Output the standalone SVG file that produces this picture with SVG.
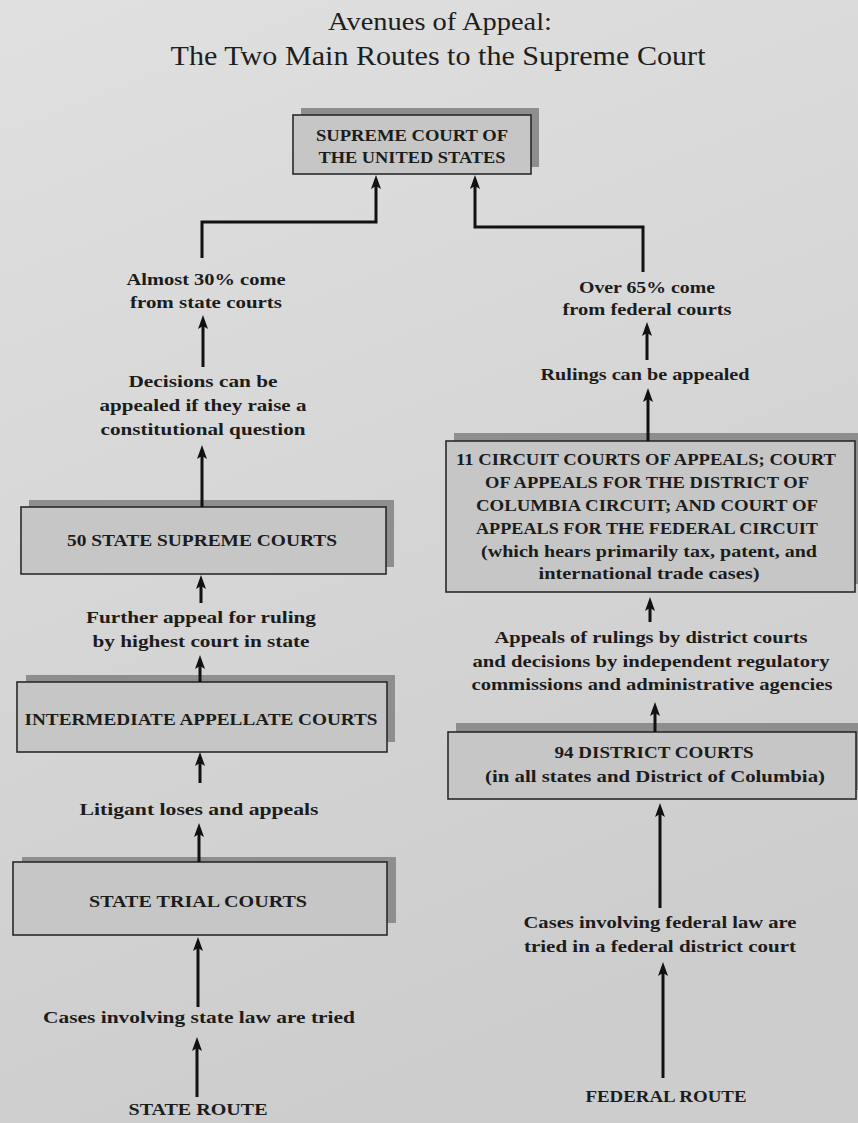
<svg xmlns="http://www.w3.org/2000/svg" width="858" height="1123" viewBox="0 0 858 1123">
<style>
.t{font-family:"Liberation Serif","Times New Roman",serif;font-weight:bold;font-size:17px;fill:#1c1c1c;text-anchor:middle}
.cap{font-size:16.5px}
.title{font-family:"Liberation Serif","Times New Roman",serif;font-weight:normal;fill:#1e1e1e;text-anchor:middle}
.box{fill:#c6c6c6;stroke:#2a2a2a;stroke-width:1.6}
.shadow{fill:#8e8e8e}
.conn{fill:none;stroke:#111;stroke-width:3;marker-end:url(#ah)}
</style>
<defs>
<linearGradient id="bg" x1="0" y1="0" x2="0.3" y2="1">
<stop offset="0" stop-color="#e0e0e0"/>
<stop offset="1" stop-color="#cdcdcd"/>
</linearGradient>
<marker id="ah" viewBox="0 0 14 10" refX="9" refY="5" markerWidth="14" markerHeight="10" markerUnits="userSpaceOnUse" orient="auto">
<path d="M0,0 L14,5 L0,10 L3,5 z" fill="#111"/>
</marker>
</defs>
<rect width="858" height="1123" fill="url(#bg)"/>

<g id="title">
<text class="title" x="440" y="30" font-size="26" textLength="224" lengthAdjust="spacingAndGlyphs">Avenues of Appeal:</text>
<text class="title" x="438" y="65" font-size="27" textLength="535" lengthAdjust="spacingAndGlyphs">The Two Main Routes to the Supreme Court</text>
</g>

<g id="supreme-court">
<rect class="shadow" x="301" y="108" width="238" height="59"/>
<rect class="box" x="293" y="115" width="238" height="59"/>
<text class="t cap" x="412" y="141" textLength="192" lengthAdjust="spacingAndGlyphs">SUPREME COURT OF</text>
<text class="t cap" x="412" y="163" textLength="187" lengthAdjust="spacingAndGlyphs">THE UNITED STATES</text>
</g>

<g id="label-30pct">
<text class="t" x="206" y="285" textLength="159" lengthAdjust="spacingAndGlyphs">Almost 30% come</text>
<text class="t" x="206" y="308" textLength="152" lengthAdjust="spacingAndGlyphs">from state courts</text>
</g>

<g id="label-constitutional">
<text class="t" x="203" y="387" textLength="149" lengthAdjust="spacingAndGlyphs">Decisions can be</text>
<text class="t" x="203" y="411" textLength="207" lengthAdjust="spacingAndGlyphs">appealed if they raise a</text>
<text class="t" x="203" y="435" textLength="205" lengthAdjust="spacingAndGlyphs">constitutional question</text>
</g>

<g id="state-supreme-courts">
<rect class="shadow" x="29" y="500" width="365" height="67"/>
<rect class="box" x="21" y="507" width="365" height="67"/>
<text class="t cap" x="202" y="546" textLength="270" lengthAdjust="spacingAndGlyphs">50 STATE SUPREME COURTS</text>
</g>

<g id="label-further-appeal">
<text class="t" x="201" y="623" textLength="230" lengthAdjust="spacingAndGlyphs">Further appeal for ruling</text>
<text class="t" x="201" y="647" textLength="217" lengthAdjust="spacingAndGlyphs">by highest court in state</text>
</g>

<g id="intermediate-appellate-courts">
<rect class="shadow" x="26" y="675" width="369" height="67"/>
<rect class="box" x="17" y="682" width="370" height="70"/>
<text class="t cap" x="201" y="725" textLength="353" lengthAdjust="spacingAndGlyphs">INTERMEDIATE APPELLATE COURTS</text>
</g>

<g id="label-litigant">
<text class="t" x="199" y="815" textLength="239" lengthAdjust="spacingAndGlyphs">Litigant loses and appeals</text>
</g>

<g id="state-trial-courts">
<rect class="shadow" x="22" y="857" width="374" height="66"/>
<rect class="box" x="13" y="862" width="374" height="73"/>
<text class="t cap" x="198" y="907" textLength="218" lengthAdjust="spacingAndGlyphs">STATE TRIAL COURTS</text>
</g>

<g id="label-state-law">
<text class="t" x="199" y="1023" textLength="312" lengthAdjust="spacingAndGlyphs">Cases involving state law are tried</text>
</g>

<g id="state-route">
<text class="t cap" x="198" y="1115" textLength="139" lengthAdjust="spacingAndGlyphs">STATE ROUTE</text>
</g>

<g id="label-65pct">
<text class="t" x="647" y="293" textLength="136" lengthAdjust="spacingAndGlyphs">Over 65% come</text>
<text class="t" x="647" y="315" textLength="169" lengthAdjust="spacingAndGlyphs">from federal courts</text>
</g>

<g id="label-rulings">
<text class="t" x="645" y="380" textLength="209" lengthAdjust="spacingAndGlyphs">Rulings can be appealed</text>
</g>

<g id="circuit-courts">
<rect class="shadow" x="454" y="433" width="410" height="151"/>
<rect class="box" x="446" y="441" width="409" height="151"/>
<text class="t cap" x="646" y="465" textLength="380" lengthAdjust="spacingAndGlyphs">11 CIRCUIT COURTS OF APPEALS; COURT</text>
<text class="t cap" x="647" y="488" textLength="324" lengthAdjust="spacingAndGlyphs">OF APPEALS FOR THE DISTRICT OF</text>
<text class="t cap" x="647" y="511" textLength="342" lengthAdjust="spacingAndGlyphs">COLUMBIA CIRCUIT; AND COURT OF</text>
<text class="t cap" x="647" y="534" textLength="342" lengthAdjust="spacingAndGlyphs">APPEALS FOR THE FEDERAL CIRCUIT</text>
<text class="t" x="649" y="557" textLength="336" lengthAdjust="spacingAndGlyphs">(which hears primarily tax, patent, and</text>
<text class="t" x="649" y="579" textLength="221" lengthAdjust="spacingAndGlyphs">international trade cases)</text>
</g>

<g id="label-district-appeals">
<text class="t" x="651" y="643" textLength="313" lengthAdjust="spacingAndGlyphs">Appeals of rulings by district courts</text>
<text class="t" x="651" y="667" textLength="357" lengthAdjust="spacingAndGlyphs">and decisions by independent regulatory</text>
<text class="t" x="652" y="690" textLength="361" lengthAdjust="spacingAndGlyphs">commissions and administrative agencies</text>
</g>

<g id="district-courts">
<rect class="shadow" x="456" y="723" width="408" height="67"/>
<rect class="box" x="448" y="732" width="408" height="67"/>
<text class="t cap" x="654" y="758" textLength="199" lengthAdjust="spacingAndGlyphs">94 DISTRICT COURTS</text>
<text class="t" x="655" y="782" textLength="340" lengthAdjust="spacingAndGlyphs">(in all states and District of Columbia)</text>
</g>

<g id="label-federal-law">
<text class="t" x="660" y="928" textLength="273" lengthAdjust="spacingAndGlyphs">Cases involving federal law are</text>
<text class="t" x="660" y="952" textLength="272" lengthAdjust="spacingAndGlyphs">tried in a federal district court</text>
</g>

<g id="federal-route">
<text class="t cap" x="666" y="1102" textLength="161" lengthAdjust="spacingAndGlyphs">FEDERAL ROUTE</text>
</g>

<g id="connectors">
<path class="conn" d="M202,258 L202,222 L376,222 L376,180"/>
<path class="conn" d="M643,272 L643,227 L475,227 L475,180"/>
<path class="conn" d="M203,367 L203,320"/>
<path class="conn" d="M202,507 L202,450"/>
<path class="conn" d="M201,603 L201,580"/>
<path class="conn" d="M200,682 L200,660"/>
<path class="conn" d="M200,783 L200,757"/>
<path class="conn" d="M199,862 L199,828"/>
<path class="conn" d="M198,1007 L198,942"/>
<path class="conn" d="M197,1097 L197,1042"/>
<path class="conn" d="M647,360 L647,327"/>
<path class="conn" d="M648,441 L648,393"/>
<path class="conn" d="M650,622 L650,602"/>
<path class="conn" d="M655,732 L655,707"/>
<path class="conn" d="M660,908 L660,808"/>
<path class="conn" d="M663,1078 L663,967"/>
</g>
</svg>
